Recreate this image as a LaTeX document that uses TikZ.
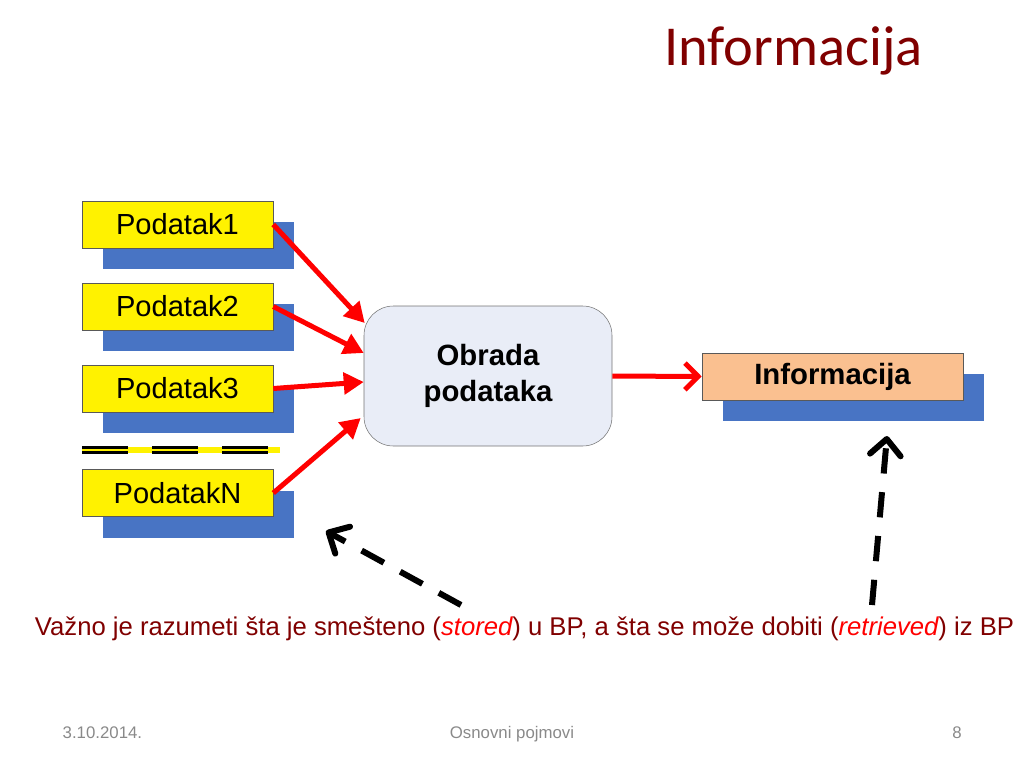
\documentclass[tikz,border=0pt]{standalone}
\usepackage{fontspec}
\setmainfont{Liberation Sans}
\newfontfamily\titlefont{Carlito}
\usetikzlibrary{arrows.meta,shadows,calc}
\definecolor{darkred}{RGB}{128,0,0}
\definecolor{boxblue}{RGB}{72,116,196}
\definecolor{procfill}{RGB}{233,237,247}
\definecolor{infofill}{RGB}{250,192,144}
\definecolor{footgray}{RGB}{137,137,137}
\definecolor{arrowred}{RGB}{255,0,0}

\begin{document}
\begin{tikzpicture}[x=0.75pt,y=-0.75pt,
    blueshadow/.style={drop shadow={shadow xshift=15.75pt,shadow yshift=-15.75pt,fill=boxblue,opacity=1,draw=none}},
    podatak/.style={draw=black!65,fill=yellow,inner sep=0pt,minimum width=143.25pt,minimum height=35.25pt,
        font=\fontsize{21.8}{26}\selectfont,blueshadow},
    obrada/.style={draw=black!55,fill=procfill,rounded corners=22pt,inner sep=0pt,minimum width=186pt,
        minimum height=105pt,align=center,font=\bfseries\fontsize{22}{27}\selectfont},
    info/.style={draw=black!65,fill=infofill,inner sep=0pt,minimum width=195.75pt,minimum height=35.25pt,
        font=\bfseries\fontsize{22}{26}\selectfont,blueshadow},
    redarrow/.style={draw=arrowred,line width=3.75pt,-{Triangle[length=15pt,width=16pt]}},
    dasharrow/.style={line width=4.5pt,dash pattern=on 19pt off 14pt,-{Straight Barb[length=12pt,width=23pt,round]}}]

    \useasboundingbox (0,0) rectangle (1024,768);

    \node[anchor=base,text=darkred,font=\titlefont\fontsize{42.3}{48}\selectfont] (naslov) at (793.5,65) {Informacija};

    \node[podatak] (p1) at (177.5,224.5) {Podatak1};
    \node[podatak] (p2) at (177.5,306.5) {Podatak2};
    \node[podatak] (p3) at (177.5,388.5) {Podatak3};
    \node[podatak] (pN) at (177.5,493)   {PodatakN};

    % separator
    \draw[yellow,line width=4.5pt] (82,450) -- (280,450);
    \draw[draw=black,double=yellow,line width=2.2pt,double distance=2.2pt,dash pattern=on 34.5pt off 18pt] (82,450) -- (272,450);

    \node[obrada] (obr) at (488,376) {Obrada\\podataka};
    \node[info] (inf) at (832.5,376.5) {Informacija};

    \draw[redarrow] (p1.east) -- ($(obr.west)+(1,-53)$);
    \draw[redarrow] (p2.east) -- ($(obr.west)+(0,-23)$);
    \draw[redarrow] (p3.east) -- ($(obr.west)+(0,6)$);
    \draw[redarrow] (pN.east) -- ($(obr.west)+(-3,42)$);
    \draw[draw=arrowred,line width=3.75pt,-{Straight Barb[length=10pt,width=20pt]}] (obr.east) -- (inf.west);

    \coordinate (s1) at (461,605);
    \coordinate (t1) at (326,531);
    \coordinate (s2) at (872,605);
    \coordinate (t2) at (887,436);
    \draw[dasharrow] (s1) -- (t1);
    \draw[dasharrow] (s2) -- (t2);

    \node[anchor=base,text=darkred,font=\fontsize{19.25}{23}\selectfont] (vazno) at (524.5,635)
        {Važno je razumeti šta je smešteno (\textit{\color{arrowred}stored}) u BP, a šta se može dobiti (\textit{\color{arrowred}retrieved}) iz BP};

    \node[anchor=base west,text=footgray,font=\fontsize{12.6}{15}\selectfont] (datum) at (58,738) {3.10.2014.};
    \node[anchor=base,text=footgray,font=\fontsize{12.6}{15}\selectfont] (tema) at (512,738) {Osnovni pojmovi};
    \node[anchor=base,text=footgray,font=\fontsize{12.6}{15}\selectfont] (broj) at (957,738) {8};
\end{tikzpicture}
\end{document}
